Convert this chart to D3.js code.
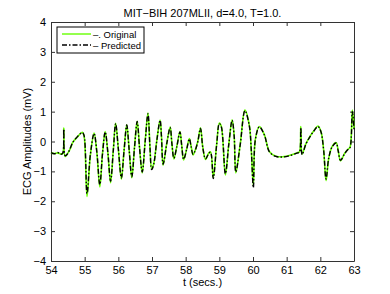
<!DOCTYPE html>
<html>
<head>
<meta charset="utf-8">
<script src="https://cdn.jsdelivr.net/npm/d3@7"></script>
<style>
  body { margin: 0; background: #fff; }
  text { font-family: "Liberation Sans", Arial, sans-serif; }
</style>
</head>
<body>
<div id="chart"></div>
<script>
// time axis (secs.) and the two traces
const timeSecs = [54.00,54.10,54.20,54.30,54.35,54.38,54.42,54.50,54.58,54.65,54.80,54.93,54.98,55.07,55.17,55.28,55.36,55.45,55.53,55.61,55.69,55.77,55.85,55.92,56.00,56.09,56.17,56.25,56.32,56.40,56.48,56.56,56.63,56.71,56.80,56.88,56.94,56.99,57.05,57.15,57.24,57.28,57.33,57.44,57.54,57.59,57.65,57.74,57.83,57.88,57.94,58.03,58.11,58.16,58.22,58.28,58.36,58.44,58.51,58.59,58.69,58.74,58.82,58.92,59.00,59.06,59.18,59.28,59.38,59.44,59.49,59.62,59.76,59.89,59.95,60.01,60.07,60.19,60.34,60.49,60.68,60.88,61.13,61.33,61.38,61.42,61.46,61.57,61.72,61.82,61.93,62.02,62.10,62.17,62.25,62.35,62.47,62.53,62.60,62.72,62.82,62.88,62.95,63.00];

const originalVals = [-0.38,-0.40,-0.38,-0.42,-0.40,0.45,-0.50,-0.39,-0.22,-0.02,0.17,0.31,0.20,-1.84,-0.45,0.28,-0.35,-1.52,-0.40,0.33,-0.40,-1.38,-0.30,0.61,-0.25,-1.26,-0.30,0.56,-0.25,-1.21,-0.20,0.68,-0.20,-1.05,0.05,0.95,-0.20,-0.90,-0.75,0.10,0.72,0.20,-0.79,-0.05,0.48,-0.05,-0.58,-0.15,0.33,-0.10,-0.62,-0.25,0.10,-0.15,-0.45,-0.30,0.00,0.46,-0.20,-0.60,-0.38,-0.35,-1.20,-0.10,0.62,0.50,-1.12,-0.10,0.73,0.20,-1.05,-0.10,1.05,0.55,-0.30,-1.48,0.08,0.50,0.22,-0.34,-0.49,-0.51,-0.45,-0.37,-0.35,0.50,-0.42,-0.08,0.22,0.38,0.52,0.33,-0.30,-1.31,-0.56,-0.17,-0.04,-0.30,-0.65,-0.40,-0.26,-0.20,1.05,0.45];

const predictedVals = [-0.37,-0.41,-0.37,-0.43,-0.39,0.42,-0.48,-0.40,-0.20,-0.03,0.18,0.30,0.21,-1.74,-0.43,0.27,-0.33,-1.44,-0.41,0.32,-0.38,-1.33,-0.31,0.60,-0.24,-1.22,-0.31,0.55,-0.26,-1.18,-0.21,0.67,-0.21,-1.02,0.04,0.93,-0.21,-0.94,-0.77,0.09,0.71,0.19,-0.76,-0.06,0.47,-0.06,-0.56,-0.16,0.32,-0.11,-0.60,-0.26,0.09,-0.16,-0.43,-0.31,-0.01,0.44,-0.21,-0.58,-0.39,-0.36,-1.24,-0.11,0.60,0.49,-1.08,-0.11,0.71,0.19,-1.02,-0.11,1.03,0.53,-0.31,-1.55,0.06,0.49,0.21,-0.35,-0.50,-0.52,-0.46,-0.38,-0.36,0.47,-0.44,-0.09,0.21,0.37,0.50,0.32,-0.31,-1.26,-0.55,-0.18,-0.05,-0.31,-0.63,-0.41,-0.27,-0.21,1.00,0.40];

const xTicks = [54,55,56,57,58,59,60,61,62,63];
const yTicks = [-4,-3,-2,-1,0,1,2,3,4];
const legendLabels = ["\u2013. Original", "\u2013 Predicted"];

const titleText = "MIT\u2212BIH 207MLII, d=4.0, T=1.0.";

class EcgVis {
	constructor(_parentElement) {
		this.parentElement = _parentElement;
		this.initVis();
	}

	initVis() {
		let vis = this;

		vis.margin = { top: 22, right: 36, bottom: 33, left: 51 };
		vis.width = 390 - vis.margin.left - vis.margin.right;
		vis.height = 294 - vis.margin.top - vis.margin.bottom;

		vis.svgRoot = d3.select("#" + vis.parentElement).append("svg")
			.attr("width", 390)
			.attr("height", 294);

		vis.svg = vis.svgRoot.append("g")
			.attr("transform", "translate(" + vis.margin.left + "," + vis.margin.top + ")");

		vis.x = d3.scaleLinear().domain([54, 63]).range([0, vis.width]);
		vis.y = d3.scaleLinear().domain([-4, 4]).range([vis.height, 0]);

		// title
		vis.svgRoot.append("text")
			.attr("x", vis.margin.left + vis.width / 2)
			.attr("y", 17)
			.attr("text-anchor", "middle")
			.style("font-size", "11px")
			.text(titleText);

		// axes: labelled bottom/left, plain ticks on top/right (inward)
		const tickLen = 4;
		const styleAxis = function (g) {
			g.select(".domain").attr("stroke", "#333");
			g.selectAll(".tick line").attr("stroke", "#333");
			g.selectAll(".tick text").style("font-size", "11px").attr("fill", "#000")
				.style("font-family", "'Liberation Sans', Arial, sans-serif");
		};

		vis.svg.append("g")
			.attr("transform", "translate(0," + vis.height + ")")
			.call(d3.axisBottom(vis.x).tickValues(xTicks).tickSizeInner(-tickLen).tickSizeOuter(0).tickPadding(5))
			.call(styleAxis);
		vis.svg.append("g")
			.call(d3.axisTop(vis.x).tickValues(xTicks).tickSizeInner(-tickLen).tickSizeOuter(0).tickFormat(""))
			.call(styleAxis);
		vis.svg.append("g")
			.call(d3.axisLeft(vis.y).tickValues(yTicks).tickSizeInner(-tickLen).tickSizeOuter(0).tickPadding(5)
				.tickFormat(d => d < 0 ? "\u2212" + Math.abs(d) : d))
			.call(styleAxis);
		vis.svg.append("g")
			.attr("transform", "translate(" + vis.width + ",0)")
			.call(d3.axisRight(vis.y).tickValues(yTicks).tickSizeInner(-tickLen).tickSizeOuter(0).tickFormat(""))
			.call(styleAxis);

		// axis titles
		vis.svgRoot.append("text")
			.attr("x", vis.margin.left + vis.width / 2)
			.attr("y", 286)
			.attr("text-anchor", "middle")
			.style("font-size", "11px")
			.text("t (secs.)");

		vis.svgRoot.append("text")
			.attr("transform", "translate(31," + (vis.margin.top + vis.height / 2) + ") rotate(-90)")
			.attr("text-anchor", "middle")
			.style("font-size", "11px")
			.text("ECG Amplitudes (mV)");

		vis.wrangleData();
	}

	wrangleData() {
		let vis = this;
		vis.original = timeSecs.map((t, i) => ({ t: t, v: originalVals[i] }));
		vis.predicted = timeSecs.map((t, i) => ({ t: t, v: predictedVals[i] }));
		vis.updateVis();
	}

	updateVis() {
		let vis = this;

		const line = d3.line()
			.x(d => vis.x(d.t))
			.y(d => vis.y(d.v))
			.curve(d3.curveCatmullRom.alpha(0.5));

		vis.svg.append("path")
			.datum(vis.original)
			.attr("d", line)
			.attr("fill", "none")
			.attr("stroke", "#66ff00")
			.attr("stroke-width", 1.6);

		vis.svg.append("path")
			.datum(vis.predicted)
			.attr("d", line)
			.attr("fill", "none")
			.attr("stroke", "#000")
			.attr("stroke-width", 1.4)
			.attr("stroke-dasharray", "5,2,1.5,2");

		// legend
		const legend = vis.svgRoot.append("g")
			.attr("transform", "translate(57,27)");

		legend.append("rect")
			.attr("width", 87)
			.attr("height", 26)
			.attr("fill", "#fff")
			.attr("stroke", "#000")
			.attr("stroke-width", 1);

		const entries = [
			{ label: legendLabels[0], color: "#66ff00", dash: null },
			{ label: legendLabels[1], color: "#000", dash: "5,2,1.5,2" }
		];

		entries.forEach(function (e, i) {
			const yy = 7 + i * 11;
			legend.append("line")
				.attr("x1", 5).attr("x2", 34)
				.attr("y1", yy).attr("y2", yy)
				.attr("stroke", e.color)
				.attr("stroke-width", 1.4)
				.attr("stroke-dasharray", e.dash);
			legend.append("text")
				.attr("x", 36)
				.attr("y", yy + 3.5)
				.style("font-size", "9.5px")
				.text(e.label);
		});
	}
}

new EcgVis("chart");
</script>
</body>
</html>
